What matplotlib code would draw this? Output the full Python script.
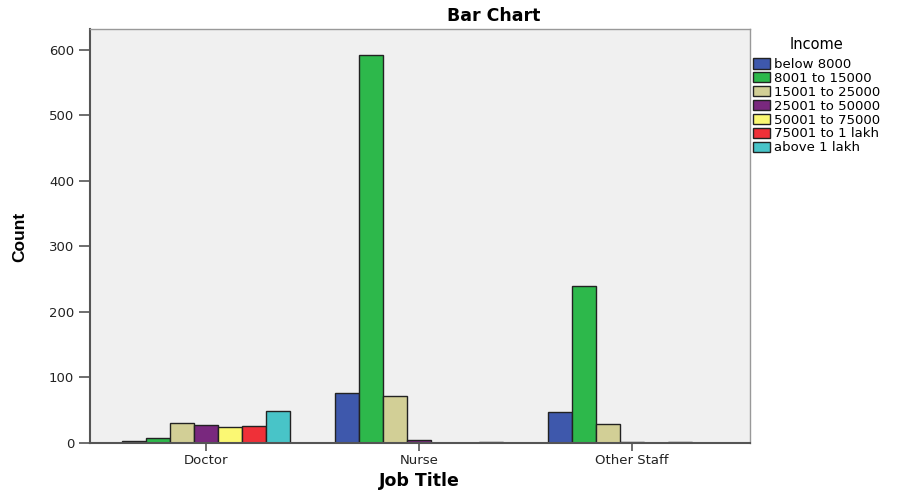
import matplotlib
matplotlib.use("Agg")
import matplotlib.pyplot as plt
import numpy as np
from matplotlib.patches import Patch

plt.rcParams['font.family'] = ['Liberation Sans', 'DejaVu Sans']

job_titles = ["Doctor", "Nurse", "Other Staff"]
income_levels = ["below 8000", "8001 to 15000", "15001 to 25000", "25001 to 50000",
                 "50001 to 75000", "75001 to 1 lakh", "above 1 lakh"]
# counts per income level, in order Doctor, Nurse, Other Staff
below_8000 = [3, 76, 48]
r8001_15000 = [7, 592, 240]
r15001_25000 = [30, 72, 29]
r25001_50000 = [28, 5, 1]
r50001_75000 = [24, 0, 0]
r75001_1lakh = [26, 0, 1]
above_1lakh = [49, 2, 0]
series = [below_8000, r8001_15000, r15001_25000, r25001_50000,
          r50001_75000, r75001_1lakh, above_1lakh]
colors = ["#3e58ac", "#2db84b", "#d2cf96", "#79287e", "#fbf873", "#ef3038", "#48c4c8"]

fig = plt.figure(figsize=(8.97, 4.90), dpi=100)
ax = fig.add_axes([90/897, 1-443/490, 660/897, 414/490])
ax.set_facecolor("#f0f0f0")

x = np.arange(len(job_titles))
w = 24/213
for i, (vals, c) in enumerate(zip(series, colors)):
    ax.bar(x + (i-3)*w, vals, width=w, color=c, edgecolor="#222222", linewidth=1.0,
           label=income_levels[i])

ax.set_xlim(-116/213, -116/213 + 660/213)
ax.set_ylim(0, 632)
ax.set_yticks([0, 100, 200, 300, 400, 500, 600])
ax.set_xticks(x)
ax.set_xticklabels(job_titles)
ax.tick_params(axis='both', direction='out', length=8, width=1.2, color="#555555",
               labelsize=9.5, labelcolor="#222222")
ax.tick_params(axis='x', length=6, pad=2)
for lab in ax.get_xticklabels() + ax.get_yticklabels():
    lab.set_family(['DejaVu Sans'])
for s in ['left', 'bottom']:
    ax.spines[s].set_color("#555555")
    ax.spines[s].set_linewidth(1.5)
for s in ['top', 'right']:
    ax.spines[s].set_color("#999999")
    ax.spines[s].set_linewidth(1.0)

fig.text(419/897, 1-481/490, "Job Title", ha='center', va='center', fontsize=12.5, fontweight='bold',
         family=['DejaVu Sans'])
fig.text(20/897, 1-237/490, "Count", ha='center', va='center', fontsize=12.5,
         fontweight='bold', rotation=90)
fig.text(494/897, 1-16/490, "Bar Chart", ha='center', va='center', fontsize=12.5, fontweight='bold',
         family=['DejaVu Sans'])

handles = [Patch(facecolor=c, edgecolor="#222222", linewidth=1.0) for c in colors]
leg = fig.legend(handles, income_levels, title="Income", loc='upper left',
                 bbox_to_anchor=(748/897, 1-32/490), frameon=False,
                 prop={'family': 'DejaVu Sans', 'size': 9.5},
                 title_fontproperties={'family': 'DejaVu Sans', 'size': 10.5},
                 handlelength=1.3, handleheight=0.85,
                 handletextpad=0.3, labelspacing=0.07, borderaxespad=0)
leg._legend_box.sep = 4
fig.savefig("out.png", dpi=100)
